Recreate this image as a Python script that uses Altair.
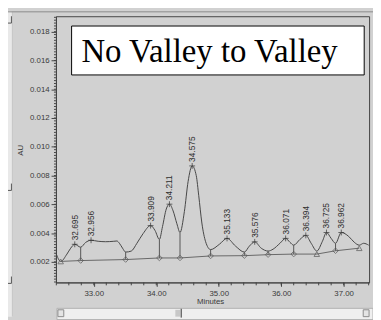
import altair as alt
import pandas as pd

# ---- data ----
trace_t = [32.394, 32.47, 32.57, 32.63, 32.695, 32.79, 32.87, 32.956, 33.07, 33.19,
           33.32, 33.37, 33.41, 33.46, 33.51, 33.60, 33.69, 33.79, 33.909, 33.98,
           34.05, 34.10, 34.16, 34.211, 34.27, 34.33, 34.38, 34.45, 34.51, 34.575,
           34.64, 34.68, 34.73, 34.79, 34.87, 35.01, 35.133, 35.27, 35.41, 35.49,
           35.576, 35.68, 35.79, 35.87, 35.98, 36.071, 36.14, 36.20, 36.30, 36.394,
           36.48, 36.57, 36.66, 36.725, 36.80, 36.87, 36.962, 37.08, 37.17, 37.25,
           37.32, 37.40]
trace_au = [0.00261, 0.00203, 0.00254, 0.00295, 0.00322, 0.00302, 0.00335, 0.00350, 0.00343, 0.00340,
            0.00343, 0.00345, 0.00329, 0.00295, 0.00268, 0.00275, 0.00329, 0.00397, 0.00452, 0.00418,
            0.00356, 0.00445, 0.00567, 0.00601, 0.00554, 0.00465, 0.00404, 0.00550, 0.00760, 0.00867,
            0.00800, 0.00660, 0.00470, 0.00340, 0.00285, 0.00322, 0.00363, 0.00309, 0.00268, 0.00309,
            0.00339, 0.00295, 0.00275, 0.00288, 0.00329, 0.00363, 0.00336, 0.00316, 0.00356, 0.00384,
            0.00329, 0.00275, 0.00343, 0.00404, 0.00363, 0.00329, 0.00404, 0.00377, 0.00336, 0.00316,
            0.00329, 0.00316]

peak_t = [32.695, 32.956, 33.909, 34.211, 34.575, 35.133, 35.576, 36.071, 36.394, 36.725, 36.962]
peak_au = [0.00322, 0.00350, 0.00452, 0.00601, 0.00867, 0.00363, 0.00339, 0.00363, 0.00384, 0.00404, 0.00404]
peak_labels = ["32.695", "32.956", "33.909", "34.211", "34.575", "35.133", "35.576",
               "36.071", "36.394", "36.725", "36.962"]

valley_t = [32.79, 33.51, 34.05, 34.38, 34.87, 35.41, 35.79, 36.20, 36.87]
valley_trace_au = [0.00302, 0.00268, 0.00356, 0.00404, 0.00285, 0.00268, 0.00275, 0.00316, 0.00329]
valley_base_au = [0.00209, 0.00216, 0.00227, 0.00227, 0.00241, 0.00243, 0.00250, 0.00254, 0.00277]

tri_t = [32.47, 36.57, 37.25]
tri_base_au = [0.00203, 0.00254, 0.00295]

y_ticks = [0.002, 0.004, 0.006, 0.008, 0.010, 0.012, 0.014, 0.016, 0.018]
x_ticks = [33.0, 34.0, 35.0, 36.0, 37.0]
y_minor = [round(0.0006 + 0.0002 * i, 4) for i in range(93)]
x_minor = [round(32.4 + 0.2 * i, 1) for i in range(26)]

X_DOMAIN = [32.394, 37.407]
Y_DOMAIN = [0.000571, 0.019075]

# ---- tables ----
trace_df = pd.DataFrame({"t": trace_t, "au": trace_au})
peak_df = pd.DataFrame({"t": peak_t, "au": peak_au, "label": peak_labels})
peak_df["label_au"] = peak_df["au"] + 0.00028
valley_df = pd.DataFrame({"t": valley_t, "au": valley_trace_au, "base": valley_base_au})
tri_df = pd.DataFrame({"t": tri_t, "base": tri_base_au})
base_df = pd.concat([valley_df[["t", "base"]], tri_df]).sort_values("t")
ymin_df = pd.DataFrame({"au": y_minor})
xmin_df = pd.DataFrame({"t": x_minor})
one = pd.DataFrame({"a": [0]})

xs = alt.Scale(domain=X_DOMAIN, nice=False, zero=False)
ys = alt.Scale(domain=Y_DOMAIN, nice=False, zero=False)
FONT = "Liberation Sans"
INK = "#3a3a3a"

AX = alt.Axis(values=x_ticks, format=".2f", title=None, tickSize=4, labelPadding=3,
              labelFontSize=8, labelFont=FONT, labelColor=INK, domainColor="#444444",
              tickColor="#444444", grid=False, labelFlush=False, orient="bottom")
AY = alt.Axis(values=y_ticks, format=".3f", title=None, tickSize=5, labelPadding=2,
              labelFontSize=8, labelFont=FONT, labelColor=INK, domainColor="#444444",
              tickColor="#444444", grid=False, labelFlush=False, orient="left")


def X(field):
    return alt.X(field, type="quantitative", scale=xs, axis=AX)


def Y(field):
    return alt.Y(field, type="quantitative", scale=ys, axis=AY)


# ---- window chrome ----
def vrect(x, x2, y, y2, fill, stroke=None):
    kw = dict(fill=fill)
    if stroke:
        kw.update(stroke=stroke, strokeWidth=1)
    return alt.Chart(one).mark_rect(**kw).encode(
        x=alt.value(x), x2=alt.value(x2), y=alt.value(y), y2=alt.value(y2))


def vrule(x, x2, y, y2, color="#555555", w=1):
    return alt.Chart(one).mark_rule(color=color, strokeWidth=w).encode(
        x=alt.value(x), x2=alt.value(x2), y=alt.value(y), y2=alt.value(y2))


chrome = [
    vrect(-49, -44, -5, 307, "#e9e9e9"),
    vrule(-44.5, -44.5, -5, 307, "#c4c4c4"),
    vrule(-45.5, -45.5, 0, 7, "#555555"),
    vrule(-49, -45.5, 7, 7, "#555555"),
    vrule(-45.5, -45.5, 171, 178, "#555555"),
    vrule(-49, -45.5, 178, 178, "#555555"),
    vrule(-45.5, -45.5, 266, 273, "#555555"),
    vrule(-49, -45.5, 273, 273, "#555555"),
    vrule(-49, 324, -4.5, -4.5, "#8a8a8a"),
    vrect(1, 324, 298.5, 310, "#efefef", "#b0b0b0"),
    vrect(2, 8, 300, 307, "#e4e4e4", "#8a8a8a"),
    vrect(122, 127, 300, 307, "#c8c8c8"),
    vrule(128, 128, 299, 308, "#333333"),
    vrect(314, 320, 300, 307, "#e4e4e4", "#8a8a8a"),
]

# ---- chromatogram ----
trace = alt.Chart(trace_df).mark_line(color="#454545", strokeWidth=1, interpolate="monotone").encode(
    x=X("t"), y=Y("au"))

baseline = alt.Chart(base_df).mark_line(color="#666666", strokeWidth=1).encode(
    x=X("t"), y=Y("base"))

drops = alt.Chart(valley_df).mark_rule(color="#555555", strokeWidth=1).encode(
    x=X("t"), y=Y("au"), y2="base:Q")

diamonds = alt.Chart(valley_df).mark_point(shape="diamond", filled=False, size=32,
                                            color="#555555", strokeWidth=1).encode(
    x=X("t"), y=Y("base"))

triangles = alt.Chart(tri_df).mark_point(shape="triangle-up", filled=False, size=32,
                                          color="#555555", strokeWidth=1).encode(
    x=X("t"), y=Y("base"))

apex = alt.Chart(peak_df).mark_point(shape="M-1,0L1,0M0,-1L0,1", size=36, filled=False,
                                     color="#333333", strokeWidth=1).encode(
    x=X("t"), y=Y("au"))

labels = alt.Chart(peak_df).mark_text(angle=270, align="left", baseline="middle",
                                      fontSize=8.5, font=FONT, color="#2e2e2e").encode(
    x=X("t"), y=Y("label_au"), text="label:N")

ytick_minor = alt.Chart(ymin_df).mark_rule(color="#444444", strokeWidth=1).encode(
    y=Y("au"), x=alt.value(-2), x2=alt.value(0))

xtick_minor = alt.Chart(xmin_df).mark_rule(color="#444444", strokeWidth=1).encode(
    x=X("t"), y=alt.value(272), y2=alt.value(275))

box = alt.Chart(one).mark_rect(fill="white", stroke="black", strokeWidth=1).encode(
    x=alt.value(16), x2=alt.value(315), y=alt.value(10), y2=alt.value(60))
box_text = alt.Chart(one).mark_text(text="No Valley to Valley", align="left", baseline="alphabetic",
                                    font="Liberation Serif", fontSize=33.5, color="black").encode(
    x=alt.value(26), y=alt.value(47))

au_title = alt.Chart(one).mark_text(text="AU", angle=270, align="center", baseline="middle",
                                    fontSize=8, font=FONT, color=INK).encode(
    x=alt.value(-36), y=alt.value(137))
min_title = alt.Chart(one).mark_text(text="Minutes", align="center", baseline="middle",
                                     fontSize=8, font=FONT, color=INK).encode(
    x=alt.value(158), y=alt.value(292))

chart = alt.layer(
    trace, *chrome, baseline, drops, diamonds, triangles, apex, labels,
    ytick_minor, xtick_minor, box, box_text, au_title, min_title
).properties(
    width=320, height=272,
    padding={"left": 49, "top": 5, "right": 4, "bottom": 35},
    autosize=alt.AutoSizeParams(type="none"),
).configure(background="#d1d1d1").configure_view(stroke="#444444", strokeWidth=1)

chart.save("out.html", embed_options={"renderer": "svg", "actions": False})
